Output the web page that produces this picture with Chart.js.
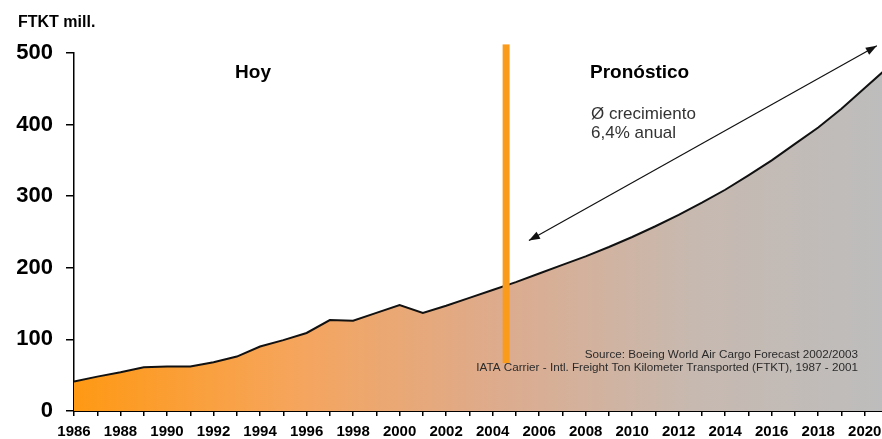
<!DOCTYPE html>
<html>
<head>
<meta charset="utf-8">
<title>FTKT mill.</title>
<script src="https://cdn.jsdelivr.net/npm/chart.js@4.4.1/dist/chart.umd.min.js"></script>
<style>
  html, body { margin: 0; padding: 0; background: #fff; overflow: hidden; }
  #wrap { width: 895px; height: 439px; }
</style>
</head>
<body>
<div id="wrap"><canvas id="chart" width="895" height="439"></canvas></div>
<script>
// Air cargo traffic, historical (to 2001) and forecast, in million FTKT
const years = [1986, 1987, 1988, 1989, 1990, 1991, 1992, 1993, 1994, 1995, 1996, 1997,
               1998, 1999, 2000, 2001, 2002, 2003, 2004, 2005, 2006, 2007, 2008, 2009,
               2010, 2011, 2012, 2013, 2014, 2015, 2016, 2017, 2018, 2019, 2020, 2021];
const ftkt = [41, 48, 54, 61, 62, 62, 68, 76, 90, 99, 109, 127,
              126, 137, 148, 137, 147, 158, 169, 180, 192, 204, 216, 229,
              243, 258, 274, 291, 309, 329, 350, 373, 396, 422, 451, 480];
const yTicks = [0, 100, 200, 300, 400, 500];

const yAxisTitle = 'FTKT mill.';
const periodLabels = ['Hoy', 'Pronóstico'];
const growthNote = ['Ø crecimiento', '6,4% anual'];
const sourceNote = ['Source: Boeing World Air Cargo Forecast 2002/2003',
                    'IATA Carrier - Intl. Freight Ton Kilometer Transported (FTKT), 1987 - 2001'];

// divider between actual and forecast years, and the growth arrow (data space)
const dividerYear = 2004.58;
const dividerRange = [67, 512];
const arrowFrom = { x: 2005.56, y: 238 };
const arrowTo = { x: 2020.52, y: 510 };

const FONT = '"Liberation Sans", Arial, Helvetica, sans-serif';

function areaGradient(context) {
  const { ctx, chartArea } = context.chart;
  if (!chartArea) return null;
  const g = ctx.createLinearGradient(chartArea.left, 0, chartArea.right, 0);
  g.addColorStop(0.00, '#ff9914');
  g.addColorStop(0.28, '#f5a55e');
  g.addColorStop(0.52, '#ddab8d');
  g.addColorStop(0.76, '#c7b9b0');
  g.addColorStop(1.00, '#bdbdbd');
  return g;
}

function arrowHead(ctx, x1, y1, x2, y2) {
  const a = Math.atan2(y2 - y1, x2 - x1);
  const len = 11, half = 4;
  ctx.beginPath();
  ctx.moveTo(x2, y2);
  ctx.lineTo(x2 - len * Math.cos(a) + half * Math.sin(a), y2 - len * Math.sin(a) - half * Math.cos(a));
  ctx.lineTo(x2 - len * Math.cos(a) - half * Math.sin(a), y2 - len * Math.sin(a) + half * Math.cos(a));
  ctx.closePath();
  ctx.fill();
}

const overlay = {
  id: 'overlay',
  afterDatasetsDraw(chart) {
    const { ctx, scales: { x, y } } = chart;
    ctx.save();

    // source notes
    ctx.fillStyle = '#2b2b2b';
    ctx.font = '11.7px ' + FONT;
    ctx.textAlign = 'right';
    ctx.textBaseline = 'alphabetic';
    ctx.fillText(sourceNote[0], 858, 357.5);
    ctx.fillText(sourceNote[1], 858, 370.5);

    // divider bar
    const bx = x.getPixelForValue(dividerYear);
    ctx.fillStyle = '#fb9b1b';
    const yt = y.getPixelForValue(dividerRange[1]);
    const yb = y.getPixelForValue(dividerRange[0]);
    ctx.fillRect(bx - 3.5, yt, 7, yb - yt);

    // growth arrow
    const ax1 = x.getPixelForValue(arrowFrom.x), ay1 = y.getPixelForValue(arrowFrom.y);
    const ax2 = x.getPixelForValue(arrowTo.x), ay2 = y.getPixelForValue(arrowTo.y);
    ctx.strokeStyle = '#111';
    ctx.fillStyle = '#111';
    ctx.lineWidth = 1.2;
    ctx.beginPath();
    ctx.moveTo(ax1, ay1);
    ctx.lineTo(ax2, ay2);
    ctx.stroke();
    arrowHead(ctx, ax2, ay2, ax1, ay1);
    arrowHead(ctx, ax1, ay1, ax2, ay2);

    // titles
    ctx.fillStyle = '#000';
    ctx.font = 'bold 16px ' + FONT;
    ctx.textAlign = 'left';
    ctx.fillText(yAxisTitle, 18, 26.5);

    ctx.font = 'bold 19px ' + FONT;
    ctx.textAlign = 'center';
    ctx.fillText(periodLabels[0], 253, 77.5);
    ctx.textAlign = 'left';
    ctx.fillText(periodLabels[1], 590, 78);

    ctx.fillStyle = '#333';
    ctx.font = '17px ' + FONT;
    ctx.fillText(growthNote[0], 591, 119);
    ctx.fillText(growthNote[1], 591, 138);

    ctx.restore();
  }
};

new Chart(document.getElementById('chart'), {
  type: 'line',
  data: {
    datasets: [{
      data: years.map((yr, i) => ({ x: yr, y: ftkt[i] })),
      borderColor: '#111',
      borderWidth: 2,
      pointRadius: 0,
      tension: 0,
      fill: 'origin',
      backgroundColor: areaGradient
    }]
  },
  options: {
    responsive: false,
    devicePixelRatio: 1,
    animation: false,
    layout: { padding: { top: 53, right: 2, left: 0, bottom: 0 } },
    plugins: { legend: { display: false }, tooltip: { enabled: false } },
    scales: {
      x: {
        type: 'linear',
        min: years[0],
        max: years[years.length - 1],
        afterBuildTicks(scale) {
          scale.ticks = years.map(v => ({ value: v }));
        },
        afterFit(scale) { scale.height = 28; },
        border: { color: '#000', width: 2 },
        grid: { drawOnChartArea: false, drawTicks: true, tickLength: 5, color: '#000', lineWidth: 1.5 },
        ticks: {
          autoSkip: false,
          maxRotation: 0,
          padding: 7,
          color: '#000',
          font: { family: FONT, size: 15, weight: 'bold' },
          callback: v => (v % 2 === 0 && v <= 2020) ? String(v) : ''
        }
      },
      y: {
        min: 0,
        max: 500,
        afterBuildTicks(scale) {
          scale.ticks = yTicks.map(v => ({ value: v }));
        },
        afterFit(scale) { scale.width = 74; },
        border: { color: '#000', width: 1.5 },
        grid: { drawOnChartArea: false, drawTicks: true, tickLength: 8, color: '#000', lineWidth: 1.5 },
        ticks: {
          padding: 13,
          color: '#000',
          font: { family: FONT, size: 22, weight: 'bold' }
        }
      }
    }
  },
  plugins: [overlay]
});
</script>
</body>
</html>
